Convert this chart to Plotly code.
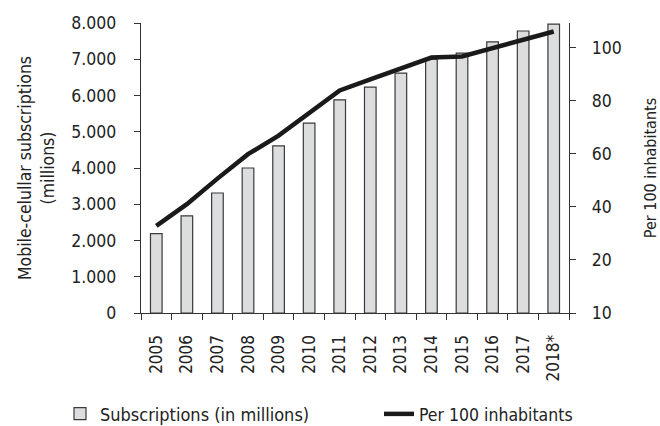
import plotly.graph_objects as go

years = ["2005", "2006", "2007", "2008", "2009", "2010", "2011", "2012",
         "2013", "2014", "2015", "2016", "2017", "2018*"]
subscriptions = [2190, 2680, 3310, 4000, 4610, 5240, 5880, 6230, 6620,
                 7000, 7170, 7480, 7780, 7970]
per_100 = [32.8, 41.0, 50.6, 59.8, 66.8, 75.5, 83.8, 88.0, 92.3, 96.2,
           96.6, 99.6, 102.6, 106.0]

left_ticks = [0, 1000, 2000, 3000, 4000, 5000, 6000, 7000, 8000]
left_ticktext = ["0", "1.000", "2.000", "3.000", "4.000", "5.000",
                 "6.000", "7.000", "8.000"]
right_ticks = [0, 20, 40, 60, 80, 100]
right_ticktext = ["10", "20", "40", "60", "80", "100"]

FONT = "DejaVu Sans Condensed, Liberation Sans Narrow, Liberation Sans, sans-serif"
AX = "#333333"

fig = go.Figure()
fig.add_trace(go.Bar(
    x=years, y=subscriptions, name="Subscriptions (in millions)",
    marker=dict(color="#dcdddf", line=dict(color="#3a3a3a", width=1.2)),
    width=0.38, yaxis="y", legend="legend"))
fig.add_trace(go.Scatter(
    x=years, y=per_100, name="Per 100 inhabitants", mode="lines",
    line=dict(color="#1a1a1a", width=4.5), yaxis="y2", legend="legend2"))

fig.update_layout(
    width=660, height=426,
    margin=dict(l=141, r=91, t=23, b=113),
    paper_bgcolor="white", plot_bgcolor="white",
    font=dict(family=FONT, size=16, color="#222222"),
    showlegend=True,
    legend=dict(orientation="h", xref="container", yref="container",
                x=60 / 660, y=1 - 414 / 426, yanchor="middle", xanchor="left",
                font=dict(size=18), itemwidth=30),
    legend2=dict(orientation="h", xref="container", yref="container",
                 x=379 / 660, y=1 - 414 / 426, yanchor="middle",
                 xanchor="left", font=dict(size=17.5), itemwidth=30),
    xaxis=dict(type="category", tickangle=-90, showline=True, automargin=False,
               linecolor=AX, linewidth=1.3, ticks="outside",
               tickson="boundaries", ticklen=6, tickcolor=AX,
               showgrid=False, tickfont=dict(size=17), ticklabelstandoff=14),
    yaxis=dict(range=[0, 8000], tickvals=left_ticks, ticktext=left_ticktext,
               showline=True, linecolor=AX, linewidth=1.3, ticks="outside",
               automargin=False,
               ticklen=6, tickcolor=AX, showgrid=False, zeroline=False,
               tickfont=dict(size=17.5), ticklabelstandoff=14,
               title=dict(text="Mobile-celullar subscriptions<br>(millions)",
                          font=dict(size=17.5), standoff=12)),
    yaxis2=dict(range=[0, 109.2], overlaying="y", side="right",
                tickvals=right_ticks, ticktext=right_ticktext,
                automargin=False,
                showline=True, linecolor=AX, linewidth=1.3, ticks="outside",
                ticklen=6, tickcolor=AX, showgrid=False, zeroline=False,
                tickfont=dict(size=17.5), ticklabelstandoff=12,
                title=dict(text="Per 100 inhabitants", font=dict(size=16),
                           standoff=30)),
    bargap=0.6,
)

fig.write_html("out.html")
